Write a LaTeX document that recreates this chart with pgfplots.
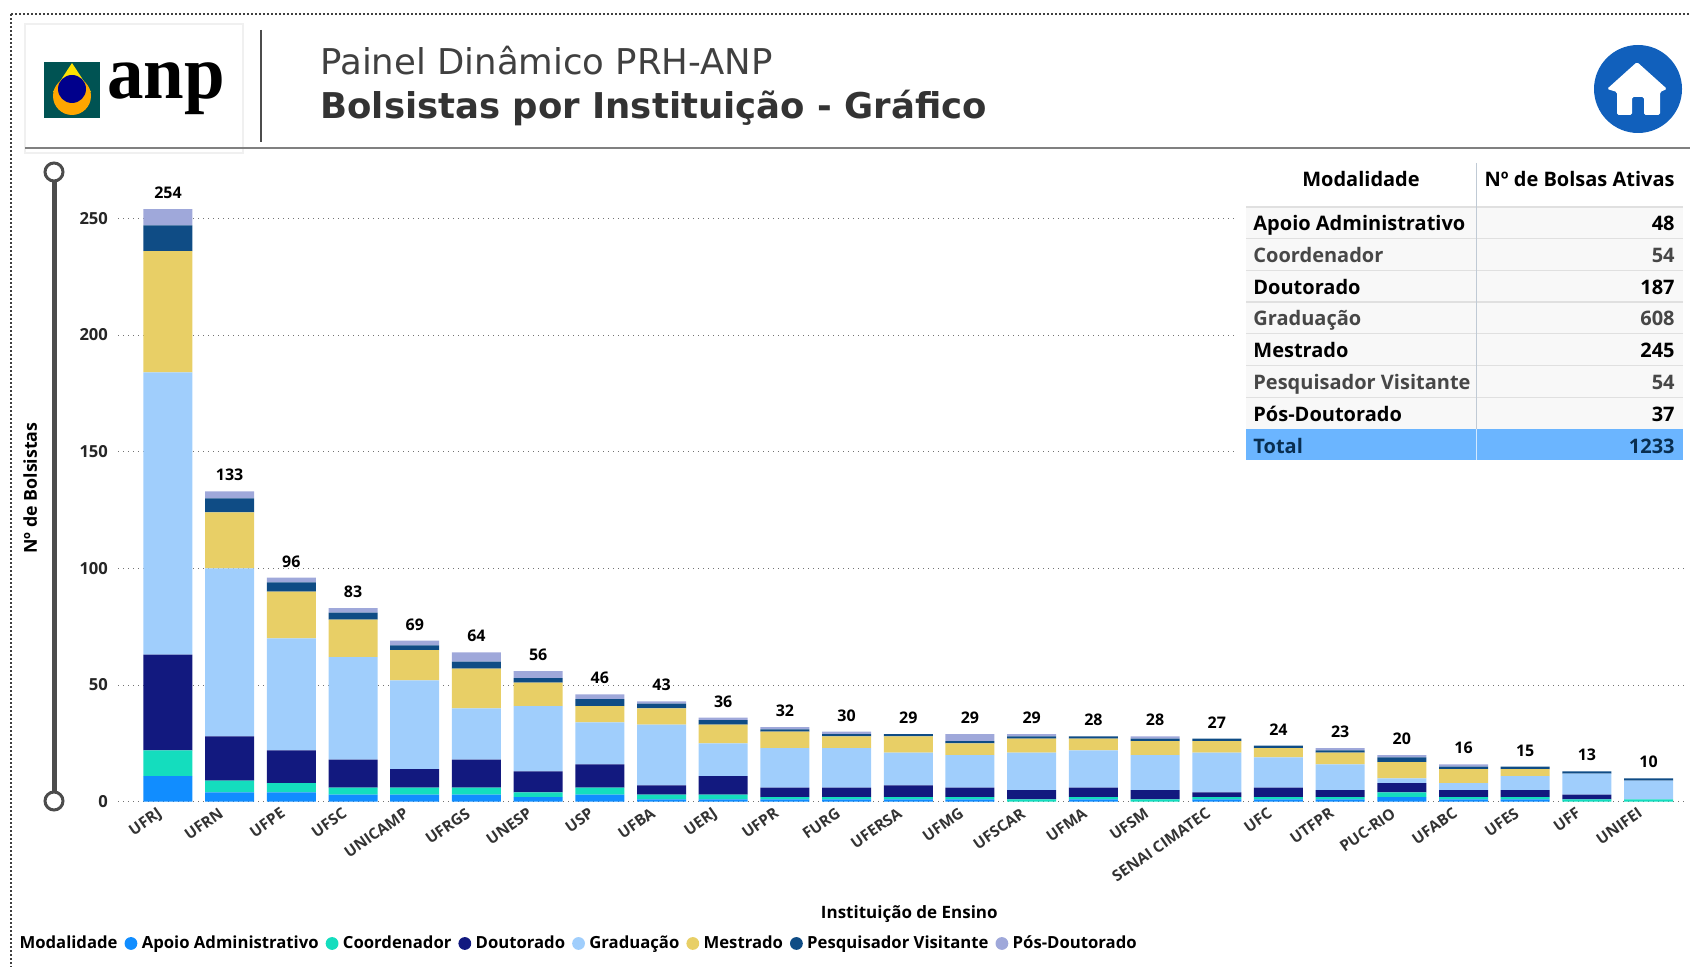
\documentclass[border=0pt]{standalone}
\usepackage{fontspec}
\setmainfont{Open Sans}
\newfontfamily\dejavu{DejaVu Sans}
\newfontfamily\anpfont{Liberation Serif}
\usepackage{pgfplots}
\usepackage{pgfplotstable}
\pgfplotsset{compat=1.18}

\definecolor{apoio}{HTML}{118DFF}
\definecolor{coord}{HTML}{14DDBE}
\definecolor{dout}{HTML}{12197F}
\definecolor{grad}{HTML}{A0CEFC}
\definecolor{mest}{HTML}{E8CF66}
\definecolor{pesq}{HTML}{0F4C85}
\definecolor{posd}{HTML}{9FA8DA}
\definecolor{totalrow}{HTML}{6BB5FF}
\definecolor{rowbg}{HTML}{F8F8F8}
\definecolor{homeblue}{HTML}{1160BC}

\pgfplotstableread{
x apoio coord dout grad mest pesq posd total
0  11 11 41 121 52 11 7 254
1  4  5  19 72  24 6  3 133
2  4  4  14 48  20 4  2 96
3  3  3  12 44  16 3  2 83
4  3  3  8  38  13 2  2 69
5  3  3  12 22  17 3  4 64
6  2  2  9  28  10 2  3 56
7  3  3  10 18  7  3  2 46
8  1  2  4  26  7  2  1 43
9  1  2  8  14  8  2  1 36
10 1  1  4  17  7  1  1 32
11 1  1  4  17  5  1  1 30
12 1  1  5  14  7  1  0 29
13 1  1  4  14  5  1  3 29
14 0  1  4  16  6  1  1 29
15 1  1  4  16  5  1  0 28
16 0  1  4  15  6  1  1 28
17 1  1  2  17  5  1  0 27
18 1  1  4  13  4  1  0 24
19 1  1  3  11  5  1  1 23
20 2  2  4  2   7  2  1 20
21 1  1  3  3   6  1  1 16
22 1  1  3  6   3  1  0 15
23 0  1  2  9   0  1  0 13
24 0  1  0  8   0  1  0 10
}\bolsas

\pgfplotsset{
  dotleg/.style={legend image code/.code={\fill[##1,draw=none] (0pt,0pt) circle (3.2pt);}},
}
\newcommand{\fs}[1]{\fontsize{#1}{#1}\selectfont}

\begin{document}
\begin{tikzpicture}
\begin{scope}[x=0.5pt,y=-0.5pt]
  \useasboundingbox (0,0) rectangle (1690,967);
  % moldura pontilhada
  \draw[black!75,line width=1pt,dash pattern=on 1pt off 1pt] (11,14) -- (1690,14);
  \draw[black!75,line width=1pt,dash pattern=on 1pt off 1pt] (11,14) -- (11,967);
  % cabecalho
  \draw[black!6,line width=0.6pt] (25,24) rectangle (243,153);
  \draw[black!50,line width=1.1pt] (25,148) -- (1690,148);
  \draw[black!70,line width=0.8pt] (261,30) -- (261,142);
  \fill[teal!65!black] (44,62) rectangle (100,118);
  \fill[yellow!85!orange] (72,63) -- (53,92) -- (91,92) -- cycle;
  \fill[orange!70!yellow] (72,96) circle (19);
  \fill[blue!55!black] (72,89) circle (14);
  \node[font=\anpfont\bfseries\fs{38},xscale=0.96,anchor=base west,inner sep=0pt] at (107,99) {anp};
  \node[font=\dejavu\fs{17.75},anchor=base west,inner sep=0pt,text=black!75] at (320,75) {Painel Dinâmico PRH-ANP};
  \node[font=\dejavu\bfseries\fs{17.75},anchor=base west,inner sep=0pt,text=black!80] at (320,119) {Bolsistas por Instituição - Gráfico};
  % botao home
  \fill[homeblue] (1638,89) circle (44);
  \fill[white,rounded corners=0.8pt] (1637,62) -- (1607,89) -- (1617,92) -- (1617,115) -- (1632,115) -- (1632,97)
     -- (1644,97) -- (1644,115) -- (1660,115) -- (1660,92) -- (1667,89) -- cycle;
  % controle deslizante
  \draw[black!70,line width=2.5pt] (54,182) -- (54,792);
  \draw[black!70,line width=1.5pt,fill=white] (54,172) circle (9);
  \draw[black!70,line width=1.5pt,fill=white] (54,801) circle (9);
\end{scope}

\begin{axis}[
    at={(59pt,-400.85pt)},
    anchor=south west,
    scale only axis,
    width=783.5pt,
    height=301pt,
    ybar stacked,
    bar width=24.5pt,
    xmin=-0.81, xmax=24.59,
    ymin=0, ymax=258,
    axis line style={draw=none},
    tick style={draw=none},
    ytick={0,50,100,150,200,250},
    ymajorgrids,
    grid style={black!55,line width=0.5pt,dotted},
    xtick=data,
    xticklabels={UFRJ,UFRN,UFPE,UFSC,UNICAMP,UFRGS,UNESP,USP,UFBA,UERJ,UFPR,FURG,UFERSA,UFMG,UFSCAR,UFMA,UFSM,SENAI CIMATEC,UFC,UTFPR,PUC-RIO,UFABC,UFES,UFF,UNIFEI},
    xticklabel style={font=\bfseries\fs{7.7},xshift=-5.5pt,yshift=-1pt,rotate=35,anchor=north east,inner sep=1pt,text=black!80},
    yticklabel style={font=\bfseries\fs{8.3},xshift=-1.5pt,/pgf/number format/assume math mode=true,text=black!85},
    xlabel={Instituição de Ensino},
    ylabel={Nº de Bolsistas},
    xlabel style={font=\bfseries\fs{8.5},at={(axis description cs:0.505,-0.1866)},anchor=center,inner sep=0pt},
    ylabel style={font=\bfseries\fs{8.9},at={(axis description cs:-0.056,0.521)},anchor=center,inner sep=0pt},
    legend style={at={(axis description cs:-0.0659,-0.2355)},anchor=west,draw=none,fill=none,
      font=\bfseries\fs{8.35},inner sep=0pt,nodes={inner xsep=1.2pt},column sep=1pt,
      /tikz/every even column/.append style={column sep=2.3pt}},
    legend columns=-1,
    legend cell align=left,
  ]
  \addlegendimage{empty legend}
  \addlegendentry{Modalidade}
  \addplot[dotleg,fill=apoio,draw=none] table[x=x,y=apoio]{\bolsas};
  \addlegendentry{Apoio Administrativo}
  \addplot[dotleg,fill=coord,draw=none] table[x=x,y=coord]{\bolsas};
  \addlegendentry{Coordenador}
  \addplot[dotleg,fill=dout,draw=none] table[x=x,y=dout]{\bolsas};
  \addlegendentry{Doutorado}
  \addplot[dotleg,fill=grad,draw=none] table[x=x,y=grad]{\bolsas};
  \addlegendentry{Graduação}
  \addplot[dotleg,fill=mest,draw=none] table[x=x,y=mest]{\bolsas};
  \addlegendentry{Mestrado}
  \addplot[dotleg,fill=pesq,draw=none] table[x=x,y=pesq]{\bolsas};
  \addlegendentry{Pesquisador Visitante}
  \addplot[dotleg,fill=posd,draw=none] table[x=x,y=posd]{\bolsas};
  \addlegendentry{Pós-Doutorado}
\end{axis}

% totais por cima das barras, mesma geometria
\begin{axis}[
    at={(59pt,-400.85pt)},
    anchor=south west,
    scale only axis,
    width=783.5pt,
    height=301pt,
    xmin=-0.81, xmax=24.59,
    ymin=0, ymax=258,
    hide axis,
    clip=false,
  ]
  \addplot[draw=none,mark=none,point meta=y,
    nodes near coords={\pgfmathprintnumber[assume math mode=true]{\pgfplotspointmeta}},
    nodes near coords align={anchor=south},
    every node near coord/.append style={font=\bfseries\fs{8},inner sep=0pt,yshift=5pt,text=black}]
    table[x=x,y=total]{\bolsas};
\end{axis}

\begin{scope}[x=0.5pt,y=-0.5pt]
  % tabela por cima das linhas de grade
  \fill[white] (1234,160) rectangle (1690,466);
  \fill[rowbg] (1246,207) rectangle (1683,429);
  \foreach \yy in {207,238.7,270.4,302.1,333.8,365.5,397.2}
    \draw[black!12,line width=0.6pt] (1246,\yy) -- (1683,\yy);
  \fill[totalrow] (1246,429) rectangle (1683,460);
  \draw[grad!60!black!40,line width=0.4pt] (1476,163) -- (1476,429);
  \draw[white!70!totalrow,line width=0.4pt] (1476,429) -- (1476,460);
  \tikzset{tb/.style={font=\bfseries\fs{10},inner sep=0pt,anchor=base west},
           tn/.style={font=\bfseries\fs{10},inner sep=0pt,anchor=base east}}
  \node[font=\bfseries\fs{10},inner sep=0pt,anchor=base] at (1361,187) {Modalidade};
  \node[tn] at (1675,187) {Nº de Bolsas Ativas};
  \node[tb] at (1253,231) {Apoio Administrativo};   \node[tn] at (1675,231) {48};
  \node[tb,text=black!72] at (1253,263) {Coordenador}; \node[tn,text=black!72] at (1675,263) {54};
  \node[tb] at (1253,295) {Doutorado};              \node[tn] at (1675,295) {187};
  \node[tb,text=black!72] at (1253,326) {Graduação};   \node[tn,text=black!72] at (1675,326) {608};
  \node[tb] at (1253,358) {Mestrado};               \node[tn] at (1675,358) {245};
  \node[tb,text=black!72] at (1253,390) {Pesquisador Visitante}; \node[tn,text=black!72] at (1675,390) {54};
  \node[tb] at (1253,422) {Pós-Doutorado};          \node[tn] at (1675,422) {37};
  \node[tb,text=pesq!60!black] at (1253,454) {Total};  \node[tn,text=pesq!60!black] at (1675,454) {1233};
\end{scope}
\end{tikzpicture}
\end{document}
